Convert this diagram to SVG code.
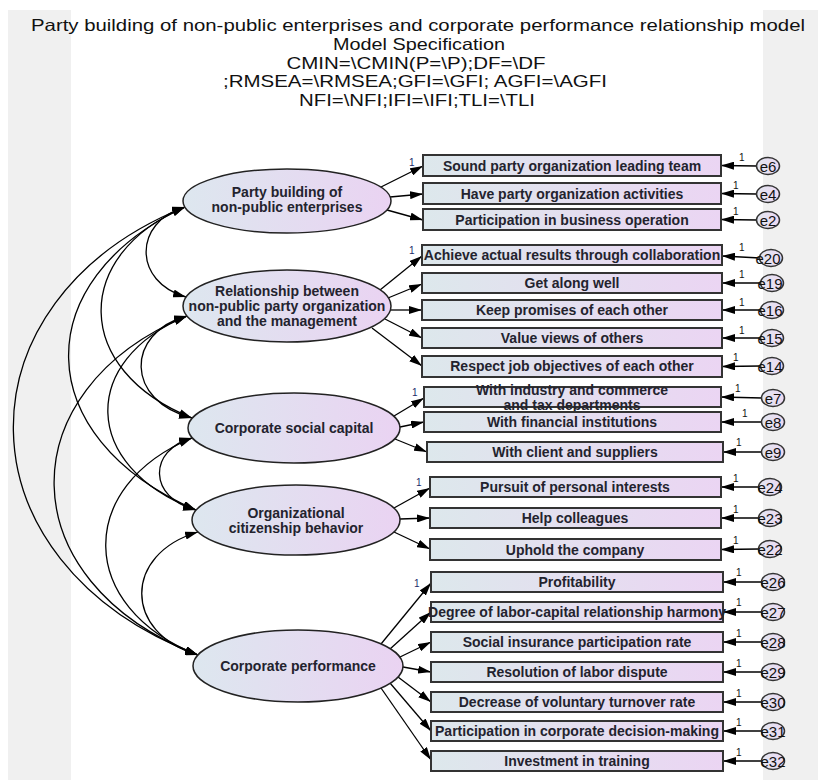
<svg xmlns="http://www.w3.org/2000/svg" width="818" height="780" viewBox="0 0 818 780">
<defs>
<linearGradient id="gb" x1="0" y1="0" x2="1" y2="0"><stop offset="0" stop-color="#dde8ec"/><stop offset="1" stop-color="#ebd5f3"/></linearGradient>
<linearGradient id="gl" x1="0" y1="0" x2="1" y2="0"><stop offset="0" stop-color="#dde7ef"/><stop offset="1" stop-color="#ead3f2"/></linearGradient>
<linearGradient id="ge" x1="0" y1="0" x2="1" y2="0"><stop offset="0" stop-color="#e2e6f0"/><stop offset="1" stop-color="#ecd9f2"/></linearGradient>
<marker id="ah" viewBox="0 0 13 8" refX="13" refY="4" markerWidth="13" markerHeight="8" markerUnits="userSpaceOnUse" orient="auto-start-reverse"><path d="M0,0 L13,4 L0,8 z" fill="#000"/></marker>
<style>
.box{fill:url(#gb);stroke:#333;stroke-width:2}
.lat{fill:url(#gl);stroke:#222;stroke-width:1.5}
.err{fill:url(#ge);stroke:#333;stroke-width:1.5}
.t{font-family:"Liberation Sans",Arial,sans-serif;font-weight:bold;font-size:14px;fill:#23232e;text-anchor:middle}
.et{font-family:"Liberation Sans",Arial,sans-serif;font-size:15px;fill:#111;text-anchor:middle}
.one{font-family:"Liberation Sans",Arial,sans-serif;font-size:10px;fill:#111}
.onel{font-family:"Liberation Sans",Arial,sans-serif;font-size:10px;fill:#1c2a6a}
.ttl{font-family:"Liberation Sans",Arial,sans-serif;font-size:16.5px;fill:#111;text-anchor:middle}
.ar{fill:none;stroke:#000;stroke-width:1.3;marker-end:url(#ah)}
.cv{fill:none;stroke:#000;stroke-width:1.3;marker-start:url(#ah);marker-end:url(#ah)}
</style>
</defs>
<rect x="0" y="0" width="818" height="780" fill="#fff"/>
<rect x="8" y="10" width="63" height="770" fill="#f0f0f0"/>
<rect x="763" y="10" width="55" height="770" fill="#f0f0f0"/>

<g id="title">
<text class="ttl" x="418" y="31" textLength="774" lengthAdjust="spacingAndGlyphs">Party building of non-public enterprises and corporate performance relationship model</text>
<text class="ttl" x="419" y="50" textLength="172" lengthAdjust="spacingAndGlyphs">Model Specification</text>
<text class="ttl" x="416" y="68.5" textLength="259" lengthAdjust="spacingAndGlyphs">CMIN=\CMIN(P=\P);DF=\DF</text>
<text class="ttl" x="415" y="87" textLength="384" lengthAdjust="spacingAndGlyphs">;RMSEA=\RMSEA;GFI=\GFI; AGFI=\AGFI</text>
<text class="ttl" x="417" y="105.5" textLength="236" lengthAdjust="spacingAndGlyphs">NFI=\NFI;IFI=\IFI;TLI=\TLI</text>
</g>

<g id="connectors">
<path class="cv" d="M185,207 C133,222 133,282 186,297"/>
<path class="cv" d="M185,207 C72,255 72,370 192,418"/>
<path class="cv" d="M185,207 C28,280 28,437 196,510"/>
<path class="cv" d="M185,207 C-46,300 -46,562 198,655"/>
<path class="cv" d="M187,316 C125,333 125,401 192,418"/>
<path class="cv" d="M187,316 C80,360 80,466 196,510"/>
<path class="cv" d="M187,316 C8,390 8,581 198,655"/>
<path class="cv" d="M192,438 C148,450 148,498 196,510"/>
<path class="cv" d="M192,438 C76,486 76,607 198,655"/>
<path class="cv" d="M198,532 C123,554 123,633 198,655"/>
<line class="ar" x1="381" y1="187" x2="423" y2="166"/>
<line class="ar" x1="390" y1="197" x2="423" y2="194"/>
<line class="ar" x1="387" y1="210" x2="423" y2="220"/>
<line class="ar" x1="380" y1="290" x2="422" y2="256"/>
<line class="ar" x1="388" y1="298" x2="422" y2="284"/>
<line class="ar" x1="390" y1="310" x2="422" y2="310"/>
<line class="ar" x1="385" y1="319" x2="422" y2="338"/>
<line class="ar" x1="372" y1="328" x2="422" y2="366"/>
<line class="ar" x1="394" y1="416" x2="424" y2="398"/>
<line class="ar" x1="400" y1="427" x2="424" y2="422"/>
<line class="ar" x1="395" y1="439" x2="427" y2="452"/>
<line class="ar" x1="394" y1="508" x2="430" y2="488"/>
<line class="ar" x1="400" y1="519" x2="430" y2="518"/>
<line class="ar" x1="394" y1="532" x2="430" y2="549"/>
<line class="ar" x1="381" y1="644" x2="431" y2="583"/>
<line class="ar" x1="390" y1="649" x2="431" y2="612"/>
<line class="ar" x1="400" y1="657" x2="431" y2="642"/>
<line class="ar" x1="403" y1="667" x2="431" y2="672"/>
<line class="ar" x1="398" y1="677" x2="431" y2="702"/>
<line class="ar" x1="390" y1="683" x2="431" y2="731"/>
<line class="ar" x1="381" y1="688" x2="431" y2="760"/>
<line class="ar" x1="757" y1="166" x2="721" y2="165.5"/>
<line class="ar" x1="757" y1="194" x2="721" y2="193.5"/>
<line class="ar" x1="757" y1="220" x2="721" y2="219.5"/>
<line class="ar" x1="760" y1="258" x2="722" y2="256"/>
<line class="ar" x1="761" y1="283" x2="722" y2="283"/>
<line class="ar" x1="761" y1="310" x2="722" y2="310"/>
<line class="ar" x1="761" y1="338" x2="722" y2="338"/>
<line class="ar" x1="761" y1="366" x2="722" y2="366.5"/>
<line class="ar" x1="762" y1="398" x2="721" y2="397"/>
<line class="ar" x1="762" y1="422" x2="721" y2="422"/>
<line class="ar" x1="762" y1="452" x2="723" y2="452"/>
<line class="ar" x1="759" y1="487" x2="721" y2="487"/>
<line class="ar" x1="759" y1="518" x2="721" y2="518"/>
<line class="ar" x1="759" y1="549" x2="721" y2="549.5"/>
<line class="ar" x1="762" y1="582" x2="723" y2="582"/>
<line class="ar" x1="762" y1="612" x2="723" y2="612"/>
<line class="ar" x1="762" y1="642" x2="723" y2="642"/>
<line class="ar" x1="762" y1="672" x2="723" y2="672"/>
<line class="ar" x1="762" y1="702" x2="723" y2="702"/>
<line class="ar" x1="762" y1="731" x2="723" y2="731"/>
<line class="ar" x1="762" y1="761" x2="723" y2="761"/>
<text class="onel" x="409" y="166">1</text>
<text class="onel" x="409" y="254">1</text>
<text class="onel" x="412" y="396">1</text>
<text class="onel" x="416" y="486">1</text>
<text class="onel" x="414" y="587">1</text>
<text class="one" x="739" y="161">1</text>
<text class="one" x="733" y="189">1</text>
<text class="one" x="733" y="215">1</text>
<text class="one" x="739" y="251">1</text>
<text class="one" x="739" y="278">1</text>
<text class="one" x="739" y="306">1</text>
<text class="one" x="739" y="334">1</text>
<text class="one" x="733" y="361">1</text>
<text class="one" x="735" y="392">1</text>
<text class="one" x="742" y="417">1</text>
<text class="one" x="736" y="446">1</text>
<text class="one" x="733" y="482">1</text>
<text class="one" x="733" y="513">1</text>
<text class="one" x="733" y="544">1</text>
<text class="one" x="736" y="576">1</text>
<text class="one" x="736" y="606">1</text>
<text class="one" x="736" y="637">1</text>
<text class="one" x="736" y="667">1</text>
<text class="one" x="736" y="697">1</text>
<text class="one" x="736" y="726">1</text>
<text class="one" x="736" y="756">1</text>
</g>

<g id="lat_party"><ellipse class="lat" cx="287" cy="201" rx="104" ry="32"/><text class="t" x="287" y="197">Party building of</text><text class="t" x="287" y="212">non-public enterprises</text></g>
<g id="lat_relation"><ellipse class="lat" cx="287" cy="306" rx="104" ry="36"/><text class="t" x="287" y="296">Relationship between</text><text class="t" x="287" y="311">non-public party organization</text><text class="t" x="287" y="326">and the management</text></g>
<g id="lat_social"><ellipse class="lat" cx="294" cy="428" rx="106" ry="35"/><text class="t" x="294" y="433">Corporate social capital</text></g>
<g id="lat_ocb"><ellipse class="lat" cx="296" cy="520" rx="104" ry="35"/><text class="t" x="296" y="518">Organizational</text><text class="t" x="296" y="533">citizenship behavior</text></g>
<g id="lat_perf"><ellipse class="lat" cx="298" cy="666" rx="105" ry="36"/><text class="t" x="298" y="671">Corporate performance</text></g>

<g id="v1"><rect class="box" x="423" y="155" width="298" height="21"/><text class="t" x="572" y="170.5">Sound party organization leading team</text></g>
<g id="v2"><rect class="box" x="423" y="183" width="298" height="21"/><text class="t" x="572" y="198.5">Have party organization activities</text></g>
<g id="v3"><rect class="box" x="423" y="209" width="298" height="21"/><text class="t" x="572" y="224.5">Participation in business operation</text></g>
<g id="v4"><rect class="box" x="422" y="245" width="300" height="20"/><text class="t" x="572" y="260">Achieve actual results through collaboration</text></g>
<g id="v5"><rect class="box" x="422" y="273" width="300" height="20"/><text class="t" x="572" y="288">Get along well</text></g>
<g id="v6"><rect class="box" x="422" y="300" width="300" height="20"/><text class="t" x="572" y="315">Keep promises of each other</text></g>
<g id="v7"><rect class="box" x="422" y="328" width="300" height="20"/><text class="t" x="572" y="343">Value views of others</text></g>
<g id="v8"><rect class="box" x="422" y="356" width="300" height="21"/><text class="t" x="572" y="371">Respect job objectives of each other</text></g>
<g id="v9"><rect class="box" x="424" y="387" width="297" height="20"/><text class="t" x="572" y="395">With industry and commerce</text><text class="t" x="572" y="409.5">and tax departments</text></g>
<g id="v10"><rect class="box" x="424" y="412" width="297" height="20"/><text class="t" x="572" y="427">With financial institutions</text></g>
<g id="v11"><rect class="box" x="427" y="442" width="296" height="20"/><text class="t" x="575" y="457">With client and suppliers</text></g>
<g id="v12"><rect class="box" x="430" y="477" width="291" height="20"/><text class="t" x="575" y="492">Pursuit of personal interests</text></g>
<g id="v13"><rect class="box" x="430" y="508" width="291" height="20"/><text class="t" x="575" y="523">Help colleagues</text></g>
<g id="v14"><rect class="box" x="430" y="539" width="291" height="21"/><text class="t" x="575" y="554.5">Uphold the company</text></g>
<g id="v15"><rect class="box" x="431" y="572" width="292" height="20"/><text class="t" x="577" y="587">Profitability</text></g>
<g id="v16"><rect class="box" x="431" y="602" width="292" height="20"/><text class="t" x="577" y="617">Degree of labor-capital relationship harmony</text></g>
<g id="v17"><rect class="box" x="431" y="632" width="292" height="20"/><text class="t" x="577" y="647">Social insurance participation rate</text></g>
<g id="v18"><rect class="box" x="431" y="662" width="292" height="20"/><text class="t" x="577" y="677">Resolution of labor dispute</text></g>
<g id="v19"><rect class="box" x="431" y="692" width="292" height="20"/><text class="t" x="577" y="707">Decrease of voluntary turnover rate</text></g>
<g id="v20"><rect class="box" x="431" y="721" width="292" height="20"/><text class="t" x="577" y="736">Participation in corporate decision-making</text></g>
<g id="v21"><rect class="box" x="431" y="751" width="292" height="20"/><text class="t" x="577" y="766">Investment in training</text></g>

<g id="e6"><ellipse class="err" cx="768" cy="166" rx="11.5" ry="8.5"/><text class="et" x="768" y="171.5">e6</text></g>
<g id="e4"><ellipse class="err" cx="768" cy="194" rx="11.5" ry="8.5"/><text class="et" x="768" y="199.5">e4</text></g>
<g id="e2"><ellipse class="err" cx="768" cy="220" rx="11.5" ry="8.5"/><text class="et" x="768" y="225.5">e2</text></g>
<g id="e20"><ellipse class="err" cx="771" cy="258" rx="11.5" ry="8.5"/><text class="et" x="768" y="263.5">e20</text></g>
<g id="e19"><ellipse class="err" cx="772" cy="283" rx="11.5" ry="8.5"/><text class="et" x="770" y="288.5">e19</text></g>
<g id="e16"><ellipse class="err" cx="772" cy="310" rx="11.5" ry="8.5"/><text class="et" x="770" y="315.5">e16</text></g>
<g id="e15"><ellipse class="err" cx="772" cy="338" rx="11.5" ry="8.5"/><text class="et" x="770" y="343.5">e15</text></g>
<g id="e14"><ellipse class="err" cx="772" cy="366" rx="11.5" ry="8.5"/><text class="et" x="770" y="371.5">e14</text></g>
<g id="e7"><ellipse class="err" cx="773" cy="398" rx="11.5" ry="8.5"/><text class="et" x="773" y="403.5">e7</text></g>
<g id="e8"><ellipse class="err" cx="773" cy="422" rx="11.5" ry="8.5"/><text class="et" x="773" y="427.5">e8</text></g>
<g id="e9"><ellipse class="err" cx="773" cy="452" rx="11.5" ry="8.5"/><text class="et" x="773" y="457.5">e9</text></g>
<g id="e24"><ellipse class="err" cx="770" cy="487" rx="11.5" ry="8.5"/><text class="et" x="770" y="492.5">e24</text></g>
<g id="e23"><ellipse class="err" cx="770" cy="518" rx="11.5" ry="8.5"/><text class="et" x="770" y="523.5">e23</text></g>
<g id="e22"><ellipse class="err" cx="770" cy="549" rx="11.5" ry="8.5"/><text class="et" x="770" y="554.5">e22</text></g>
<g id="e26"><ellipse class="err" cx="773" cy="582" rx="11.5" ry="8.5"/><text class="et" x="773" y="587.5">e26</text></g>
<g id="e27"><ellipse class="err" cx="773" cy="612" rx="11.5" ry="8.5"/><text class="et" x="773" y="617.5">e27</text></g>
<g id="e28"><ellipse class="err" cx="773" cy="642" rx="11.5" ry="8.5"/><text class="et" x="773" y="647.5">e28</text></g>
<g id="e29"><ellipse class="err" cx="773" cy="672" rx="11.5" ry="8.5"/><text class="et" x="773" y="677.5">e29</text></g>
<g id="e30"><ellipse class="err" cx="773" cy="702" rx="11.5" ry="8.5"/><text class="et" x="773" y="707.5">e30</text></g>
<g id="e31"><ellipse class="err" cx="773" cy="731" rx="11.5" ry="8.5"/><text class="et" x="773" y="736.5">e31</text></g>
<g id="e32"><ellipse class="err" cx="773" cy="761" rx="11.5" ry="8.5"/><text class="et" x="773" y="766.5">e32</text></g>
</svg>
